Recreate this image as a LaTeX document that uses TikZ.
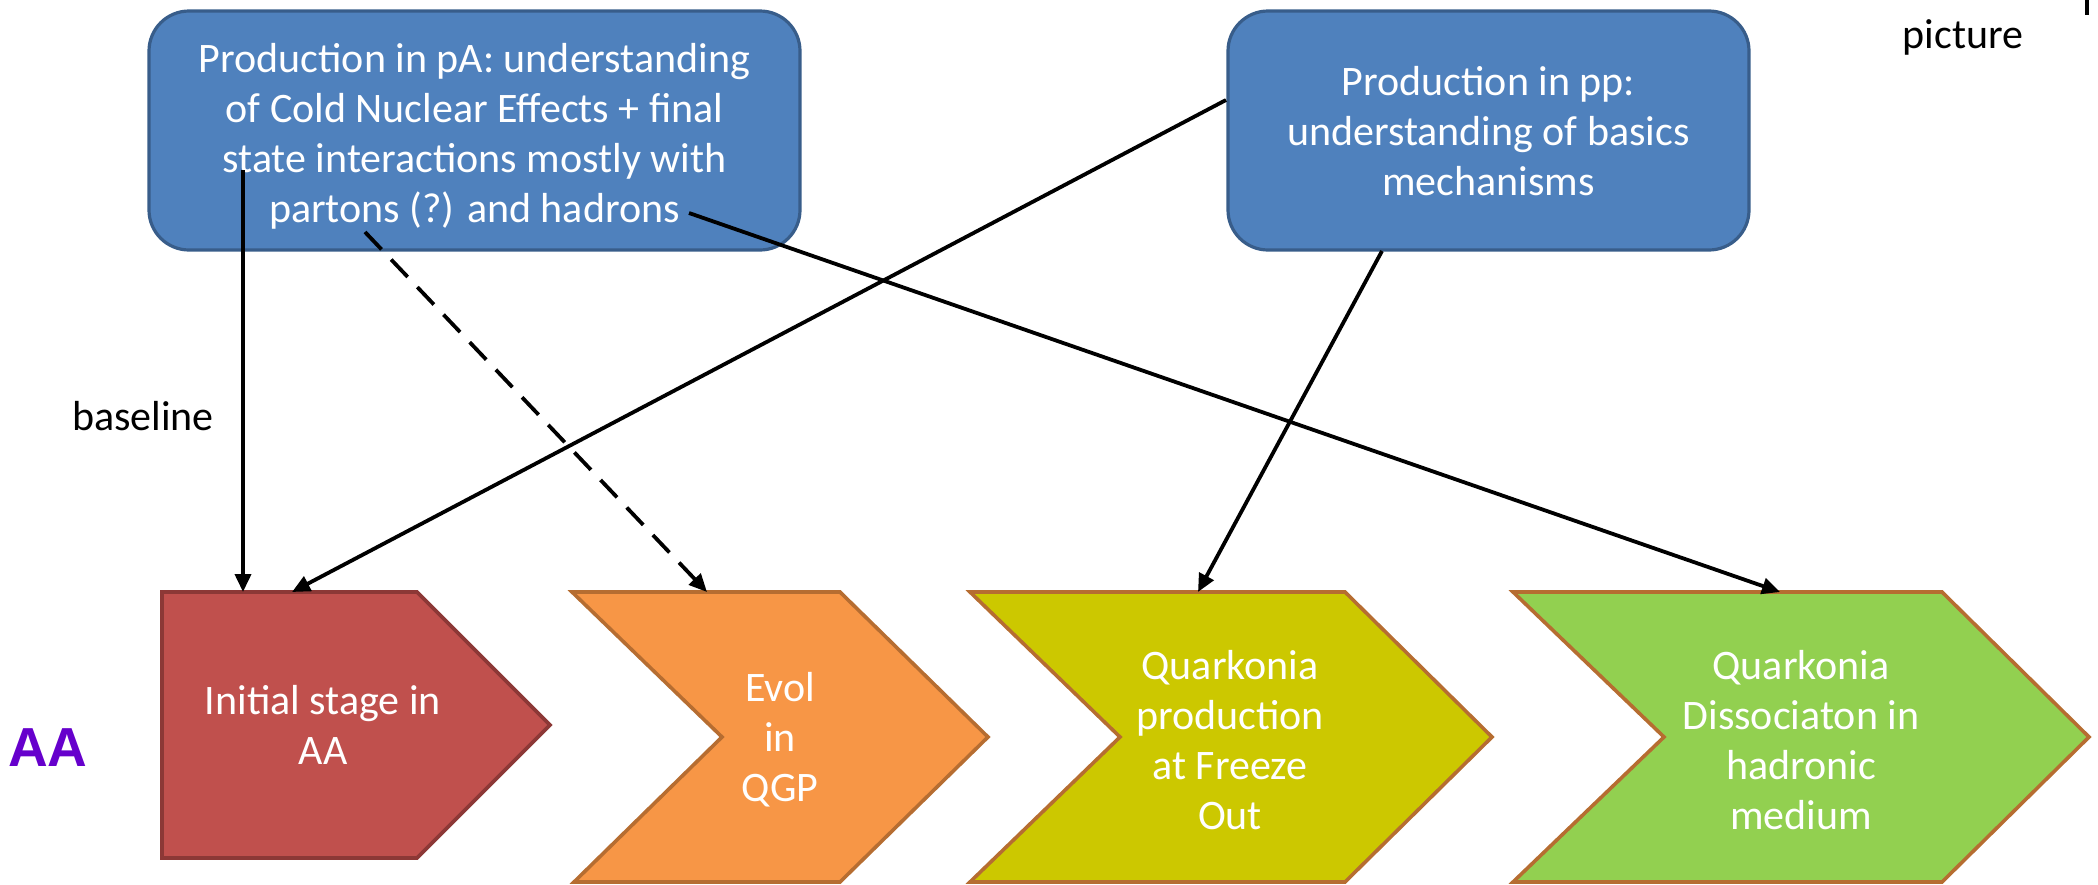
\documentclass[tikz,border=0pt]{standalone}
\usepackage{fontspec}
\setmainfont{Carlito}
\newfontfamily\arialfont{Liberation Sans}
\usetikzlibrary{arrows.meta}
\definecolor{boxblue}{HTML}{4F81BD}
\definecolor{boxborder}{HTML}{385D8A}
\definecolor{redfill}{HTML}{C0504D}
\definecolor{redborder}{HTML}{8C3836}
\definecolor{orangefill}{HTML}{F79646}
\definecolor{chevborder}{HTML}{B66D31}
\definecolor{yellowfill}{HTML}{CCC800}
\definecolor{greenfill}{HTML}{92D050}
\definecolor{aapurple}{HTML}{6600CC}
\begin{document}
\begin{tikzpicture}[x=0.5pt,y=-0.5pt,
  topbox/.style={draw=boxborder, line width=1.6pt, fill=boxblue, rounded corners=20pt,
    inner sep=0pt},
  boxtext/.style={text=white, align=center, inner sep=0pt, font=\fontsize{21}{25}\selectfont},
  stagetext/.style={text=white, align=center, inner sep=0pt, font=\fontsize{21}{25}\selectfont},
  plaintext/.style={text=black, inner sep=0pt, font=\fontsize{21}{25}\selectfont},
  link/.style={line width=1.9pt, -{Triangle[length=9pt,width=8pt]}},
  stageshape/.style={line width=1.8pt, line join=miter}
]
\useasboundingbox (0,0) rectangle (2098,884);

% top boxes
\node[topbox, minimum width=325.5pt, minimum height=119.5pt] (pA) at (474.5,130.5) {};
\node[boxtext] (pAtext) at (474.5,136)
  {Production in pA: understanding\\of Cold Nuclear Effects + final\\state interactions mostly with\\partons (?) and hadrons};
\node[topbox, minimum width=260.5pt, minimum height=119.5pt] (pp) at (1488.5,130.5) {};
\node[boxtext] (pptext) at (1488.5,131)
  {Production in pp:\\understanding of basics\\mechanisms};

% stage shapes
\draw[stageshape, draw=redborder, fill=redfill]
  (162,592) -- (417,592) -- (550,725) -- (417,858) -- (162,858) -- cycle;
\draw[stageshape, draw=chevborder, fill=orangefill]
  (572,592) -- (840,592) -- (988,737) -- (840,882) -- (574,882) -- (722,737) -- cycle;
\draw[stageshape, draw=chevborder, fill=yellowfill]
  (970,592) -- (1345,592) -- (1492,737) -- (1345,882) -- (970,882) -- (1120,737) -- cycle;
\draw[stageshape, draw=chevborder, fill=greenfill]
  (1513,592) -- (1942,592) -- (2089,737) -- (1942,882) -- (1513,882) -- (1664,737) -- cycle;

% stage texts
\node[stagetext] (red) at (323,725) {Initial stage in\\AA};
\node[stagetext] (orange) at (780,740) {Evol\\in\\QGP};
\node[stagetext] (yellow) at (1230,740) {Quarkonia\\production\\at Freeze\\Out};
\node[stagetext] (green) at (1801,740) {Quarkonia\\Dissociaton in\\hadronic\\medium};

% free labels
\node[plaintext, anchor=base] (pic) at (1963,48) {picture};
\node[plaintext] (bl) at (143,416) {baseline};
\node[text=aapurple, inner sep=0pt, font=\arialfont\bfseries\fontsize{27.5}{30}\selectfont] (aa) at (48,748) {AA};
\coordinate (barTop) at (2087,0);
\coordinate (barBot) at (2087,15);
\draw[line width=2pt] (barTop) -- (barBot);

% connector end points
\coordinate (pAv) at (243,170);
\coordinate (redA) at (243,592);
\coordinate (pAd) at (365,232);
\coordinate (orangeA) at (707,592);
\coordinate (pAh) at (689,213);
\coordinate (greenA) at (1780,592);
\coordinate (ppL) at (1226,100);
\coordinate (redB) at (292,592);
\coordinate (ppS) at (1382,251);
\coordinate (yellowA) at (1198,592);

% connectors
\draw[link] (pAv) -- (redA);
\draw[link, dash pattern=on 12pt off 7pt] (pAd) -- (orangeA);
\draw[link] (pAh) -- (greenA);
\draw[link] (ppL) -- (redB);
\draw[link] (ppS) -- (yellowA);
\end{tikzpicture}
\end{document}
